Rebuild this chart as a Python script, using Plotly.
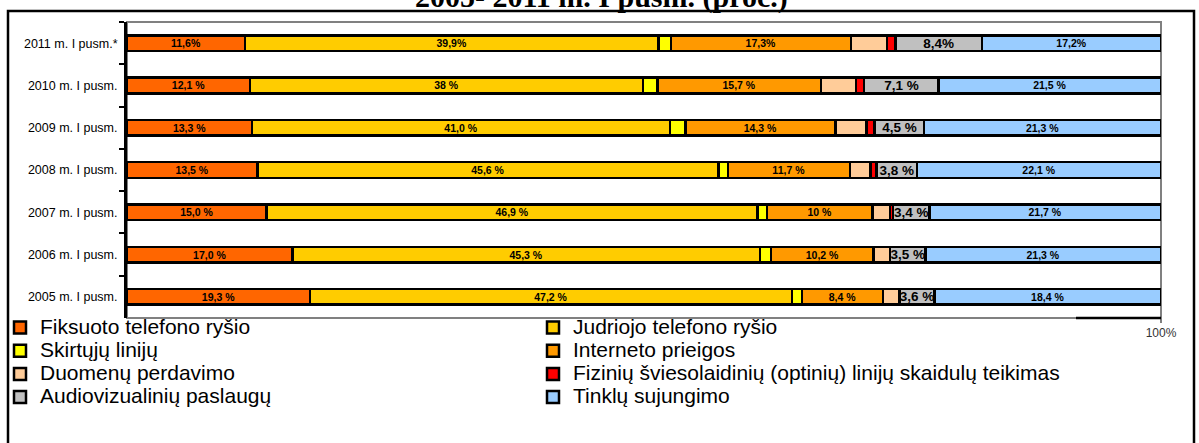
import plotly.graph_objects as go

# categories top -> bottom as in the picture
periods = ["2011 m. I pusm.*", "2010 m. I pusm.", "2009 m. I pusm.", "2008 m. I pusm.",
           "2007 m. I pusm.", "2006 m. I pusm.", "2005 m. I pusm."]

# segment lengths (%)
fiksuoto = [11.4, 11.9, 12.1, 12.6, 13.5, 16.0, 17.7]
judriojo = [40.0, 38.0, 40.4, 44.6, 47.5, 45.2, 46.6]
skirtuju = [1.2, 1.4, 1.5, 0.9, 0.9, 1.1, 1.0]
interneto = [17.4, 15.8, 14.5, 11.8, 10.2, 9.9, 7.8]
duomenu = [3.5, 3.4, 3.0, 2.0, 1.7, 1.6, 1.6]
fiziniu = [0.8, 0.8, 0.8, 0.6, 0.3, 0.0, 0.0]
audiovizualiniu = [8.4, 7.2, 4.8, 3.9, 3.5, 3.4, 3.4]
tinklu = [17.3, 21.5, 22.9, 23.6, 22.4, 22.8, 21.9]

# labels as printed on the bars
lbl_fiksuoto = ["11,6%", "12,1 %", "13,3 %", "13,5 %", "15,0 %", "17,0 %", "19,3 %"]
lbl_judriojo = ["39,9%", "38 %", "41,0 %", "45,6 %", "46,9 %", "45,3 %", "47,2 %"]
lbl_interneto = ["17,3%", "15,7 %", "14,3 %", "11,7 %", "10 %", "10,2 %", "8,4 %"]
lbl_audio = ["8,4%", "7,1 %", "4,5 %", "3,8 %", "3,4 %", "3,5 %", "3,6 %"]
lbl_tinklu = ["17,2%", "21,5 %", "21,3 %", "22,1 %", "21,7 %", "21,3 %", "18,4 %"]

series = [
    ("Fiksuoto telefono ryšio", fiksuoto, "#FF6600", lbl_fiksuoto, 10.5),
    ("Judriojo telefono ryšio", judriojo, "#FFCC00", lbl_judriojo, 10.5),
    ("Skirtųjų linijų", skirtuju, "#FFFF00", None, 0),
    ("Interneto prieigos", interneto, "#FF9900", lbl_interneto, 10.5),
    ("Duomenų perdavimo", duomenu, "#FFCC99", None, 0),
    ("Fizinių šviesolaidinių (optinių) linijų skaidulų teikimas", fiziniu, "#FF0000", None, 0),
    ("Audiovizualinių paslaugų", audiovizualiniu, "#C0C0C0", lbl_audio, 13.5),
    ("Tinklų sujungimo", tinklu, "#99CCFF", lbl_tinklu, 10.5),
]

FONT = "Liberation Sans, Arial, sans-serif"
W, H = 1199, 443
L, R, T, B = 127, 38, 22, 125
pw, ph = W - L - R, H - T - B


def px_x(x):
    return (x - L) / pw


def px_y(y):
    return (H - B - y) / ph


fig = go.Figure()
for name, vals, color, labels, fsize in series:
    bar = go.Bar(
        y=periods, x=vals, orientation="h",
        # big text inside a small legend font keeps the rows tight like the original
        name='<span style="font-size:21px">' + name + "</span>",
        marker=dict(color=color, line=dict(color="black", width=2.5)),
        hoverinfo="skip",
    )
    if labels:
        bar.update(text=labels, textposition="inside", insidetextanchor="middle",
                   textangle=0, constraintext="none",
                   textfont=dict(family=FONT, size=fsize, color="black", weight="bold"))
    else:
        bar.update(textposition="none")
    fig.add_trace(bar)

# plot-area border (grey), outer frame (black)
fig.add_shape(type="rect", xref="paper", yref="paper", x0=0, x1=1, y0=0, y1=1,
              line=dict(color="#808080", width=2), layer="below")
fig.add_shape(type="rect", xref="paper", yref="paper",
              x0=px_x(8), x1=px_x(1194), y0=px_y(470), y1=px_y(11),
              line=dict(color="black", width=2.5))
# in the original the legend box hides the x axis line except its right end
fig.add_shape(type="line", xref="paper", yref="paper", x0=px_x(1076), x1=1, y0=0, y1=0,
              line=dict(color="black", width=2.5))

fig.add_annotation(text="<b>2005- 2011 m. I pusm. (proc.)</b>", xref="paper", yref="paper",
                   x=px_x(601), y=px_y(-3), xanchor="center", yanchor="middle",
                   showarrow=False, font=dict(family="Liberation Serif, Times New Roman, serif",
                                              size=30, color="black"))

fig.update_layout(
    width=W, height=H,
    barmode="stack", bargap=0.63,
    margin=dict(l=L, r=R, t=T, b=B, autoexpand=False),
    paper_bgcolor="white", plot_bgcolor="white",
    font=dict(family=FONT, color="black"),
    showlegend=True,
    legend=dict(orientation="h", x=px_x(0), y=px_y(414), xanchor="left", yanchor="bottom",
                bgcolor="rgba(0,0,0,0)", borderwidth=0, entrywidth=488, entrywidthmode="pixels",
                traceorder="normal", font=dict(family=FONT, size=15.5, color="black")),
)
fig.update_yaxes(type="category", autorange="reversed", showline=True, linecolor="black",
                 linewidth=3, ticks="outside", tickson="boundaries", ticklen=5, tickwidth=2,
                 tickcolor="black", showgrid=False, zeroline=False, ticklabelstandoff=4,
                 tickfont=dict(family=FONT, size=12.5, color="black"))
fig.update_xaxes(range=[0, 100], showline=False,
                 tickvals=[100], ticktext=["100%"], ticks="outside", ticklen=4,
                 tickcolor="#808080", tickwidth=2, showgrid=False, zeroline=False,
                 tickfont=dict(family=FONT, size=12, color="#333"))

fig.write_html("out.html", config={"displayModeBar": False},
               post_script="document.body.style.margin='0';")
